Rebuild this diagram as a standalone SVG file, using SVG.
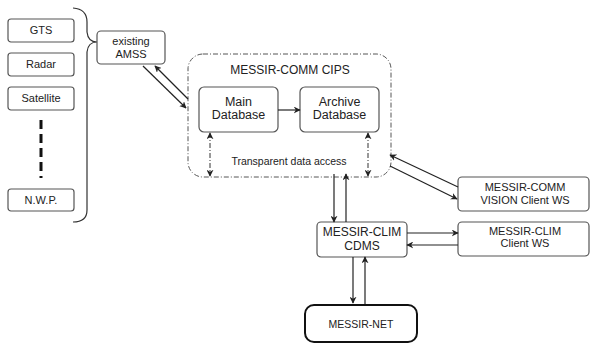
<svg xmlns="http://www.w3.org/2000/svg" width="591" height="344" viewBox="0 0 591 344">
<defs>
<marker id="ah" viewBox="0 0 10 10" refX="9" refY="5" markerWidth="7" markerHeight="7" orient="auto-start-reverse" markerUnits="userSpaceOnUse">
<path d="M0,0 L10,5 L0,10 L3,5 Z" fill="#222"/>
</marker>
</defs>
<style>
.box{fill:#fff;stroke:#555;stroke-width:1.2}
.t{font-family:"Liberation Sans",Arial,sans-serif;font-size:11px;fill:#222;text-anchor:middle}
.db{font-size:12.5px}
.c{stroke:#222;stroke-width:1.2;fill:none}
.dd{stroke:#333;stroke-width:1;fill:none;stroke-dasharray:5,2,1,2}
</style>
<rect width="591" height="344" fill="#fff"/>
<g id="gts"><rect class="box" x="8" y="19" width="66" height="23" rx="3"/><text class="t" x="41" y="34">GTS</text></g>
<g id="radar"><rect class="box" x="8" y="53" width="66" height="23" rx="3"/><text class="t" x="41" y="68">Radar</text></g>
<g id="satellite"><rect class="box" x="8" y="87" width="66" height="23" rx="3"/><text class="t" x="41" y="102">Satellite</text></g>
<g id="dots"><line x1="41" y1="120" x2="41" y2="178" stroke="#111" stroke-width="3" stroke-dasharray="9,5"/></g>
<g id="nwp"><rect class="box" x="8" y="189" width="66" height="22" rx="3"/><text class="t" x="41" y="204">N.W.P.</text></g>
<g id="brace"><path d="M73,8 Q87,9 87,22 L87,32 Q88,42 97,42 Q88,42 87,52 L87,210 Q87,222 73,222" fill="none" stroke="#333" stroke-width="1.2"/></g>
<g id="amss"><rect class="box" x="97" y="31" width="68" height="33" rx="4"/><text class="t" x="131" y="45">existing</text><text class="t" x="131" y="58">AMSS</text></g>
<g id="cips"><rect x="188" y="54" width="203" height="123" rx="15" fill="none" stroke="#555" stroke-width="1" stroke-dasharray="5,2,1,2"/><text class="t" x="290" y="74" style="font-size:12px">MESSIR-COMM CIPS</text><text class="t" x="289" y="165" style="font-size:10.5px">Transparent data access</text></g>
<g id="maindb"><rect class="box" x="199" y="87" width="79" height="45" rx="5"/><text class="t db" x="238.5" y="106">Main</text><text class="t db" x="238.5" y="119">Database</text></g>
<g id="archivedb"><rect class="box" x="300" y="87" width="79" height="45" rx="5"/><text class="t db" x="339.5" y="106">Archive</text><text class="t db" x="339.5" y="119">Database</text></g>
<g id="vision"><rect class="box" x="458" y="177" width="131" height="34" rx="4"/><text class="t" x="525" y="191">MESSIR-COMM</text><text class="t" x="525" y="204">VISION Client WS</text></g>
<g id="climws"><rect class="box" x="458" y="222" width="131" height="34" rx="4"/><text class="t" x="525" y="235">MESSIR-CLIM</text><text class="t" x="525" y="247">Client WS</text></g>
<g id="cdms"><rect class="box" x="317" y="222" width="90" height="35" rx="4"/><text class="t" x="362" y="236" style="font-size:12px">MESSIR-CLIM</text><text class="t" x="362" y="250" style="font-size:12px">CDMS</text></g>
<g id="net"><rect x="305" y="305" width="112" height="37" rx="9" fill="#fff" stroke="#111" stroke-width="2"/><text class="t" x="361" y="328" style="font-size:10.5px">MESSIR-NET</text></g>
<g id="connectors">
<line class="c" x1="143" y1="66" x2="186" y2="108" marker-end="url(#ah)"/>
<line class="c" x1="188" y1="99" x2="155" y2="66" marker-end="url(#ah)"/>
<line class="c" x1="278" y1="110" x2="300" y2="110" marker-end="url(#ah)"/>
<line class="dd" x1="210" y1="133" x2="210" y2="176" marker-start="url(#ah)" marker-end="url(#ah)"/>
<line class="dd" x1="368" y1="133" x2="368" y2="176" marker-start="url(#ah)" marker-end="url(#ah)"/>
<line class="c" x1="458" y1="187" x2="390" y2="155" marker-end="url(#ah)"/>
<line class="c" x1="390" y1="166" x2="457" y2="199" marker-end="url(#ah)"/>
<line class="c" x1="334" y1="174" x2="334" y2="222" marker-end="url(#ah)"/>
<line class="c" x1="346" y1="222" x2="346" y2="174" marker-end="url(#ah)"/>
<line class="c" x1="407" y1="233" x2="458" y2="233" marker-end="url(#ah)"/>
<line class="c" x1="458" y1="245" x2="407" y2="245" marker-end="url(#ah)"/>
<line class="c" x1="353" y1="257" x2="353" y2="303" marker-end="url(#ah)"/>
<line class="c" x1="365" y1="304" x2="365" y2="257" marker-end="url(#ah)"/>
</g>
</svg>
